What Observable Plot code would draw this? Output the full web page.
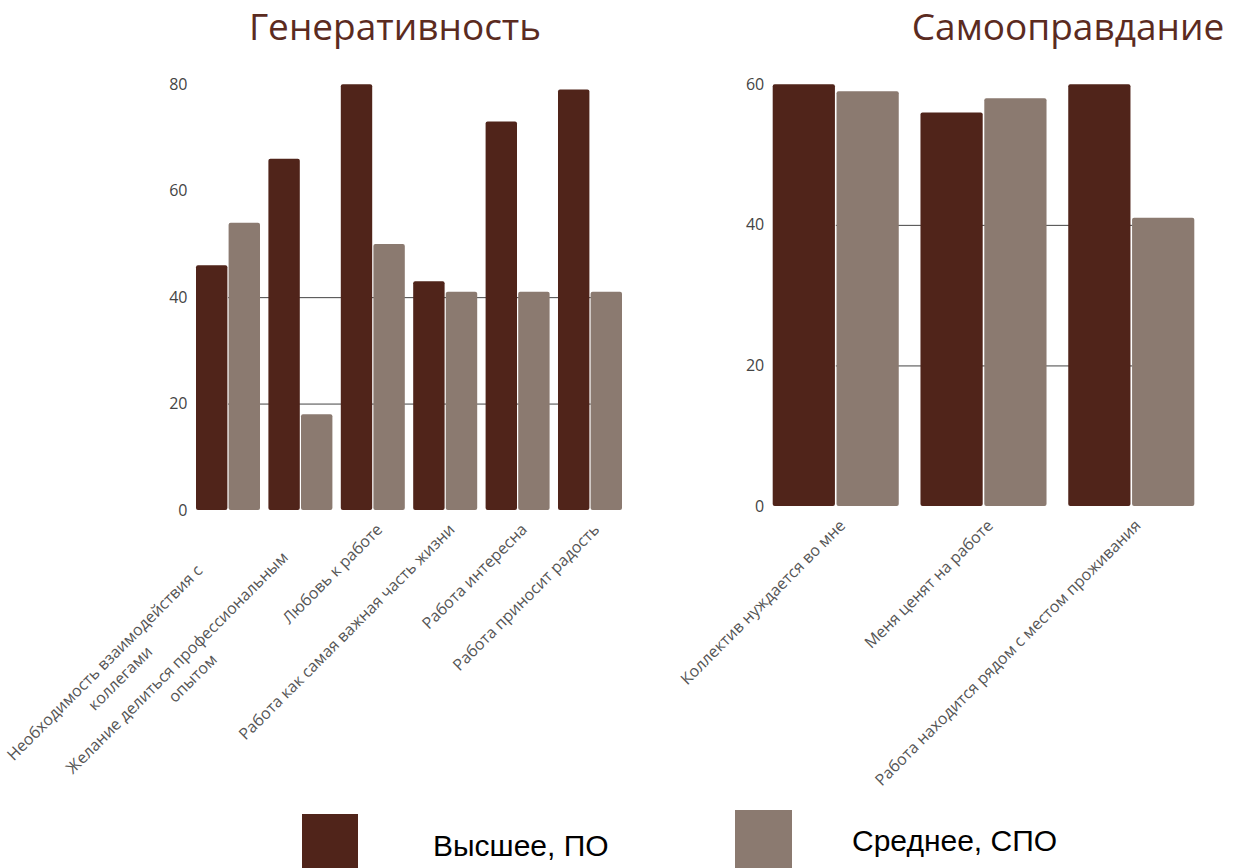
<!DOCTYPE html>
<html>
<head>
<meta charset="utf-8">
<script src="https://cdn.jsdelivr.net/npm/d3@7"></script>
<script src="https://cdn.jsdelivr.net/npm/@observablehq/plot@0.6"></script>
<style>
  body { margin: 0; background: #fff; }
  #page { position: relative; width: 1244px; height: 868px; overflow: hidden; background: #fff; }
  .title { position: absolute; top: 0px; transform: translateX(-50%); white-space: nowrap;
           font-family: "Open Sans", sans-serif; font-size: 37px; line-height: 51px; color: #5b2b1f; }
  .chart { position: absolute; top: 60px; }
  .chart svg { overflow: visible; }
  .swatch { position: absolute; }
  .legend-label { position: absolute; white-space: nowrap; color: #000;
                  font-family: "Liberation Sans", Arial, sans-serif; font-size: 30px; line-height: 34px; }
</style>
</head>
<body>
<div id="page">
  <div class="title" style="left:395px">Генеративность</div>
  <div class="title" style="left:1068px">Самооправдание</div>
  <div class="chart" id="gen" style="left:0px"></div>
  <div class="chart" id="self" style="left:640px"></div>
  <div class="swatch" id="sw-higher" style="left:302px;top:814px;width:56px;height:54px"></div>
  <div class="legend-label" id="lg-higher" style="left:433px;top:829px"></div>
  <div class="swatch" id="sw-middle" style="left:735px;top:810px;width:57px;height:58px"></div>
  <div class="legend-label" id="lg-middle" style="left:852px;top:824px"></div>
</div>
<script>
// Survey answers by education level, per statement
const seriesNames = ["Высшее, ПО", "Среднее, СПО"];
const seriesColors = ["#50241a", "#8b7a70"];

const genCategories = [
  "Необходимость взаимодействия с\nколлегами",
  "Желание делиться профессиональным\nопытом",
  "Любовь к работе",
  "Работа как самая важная часть жизни",
  "Работа интересна",
  "Работа приносит радость"
];
const genHigher = [46, 66, 80, 43, 73, 79];
const genMiddle = [54, 18, 50, 41, 41, 41];
const genTicks = [0, 20, 40, 60, 80];

const selfCategories = [
  "Коллектив нуждается во мне",
  "Меня ценят на работе",
  "Работа находится рядом с местом проживания"
];
const selfHigher = [60, 56, 60];
const selfMiddle = [59, 58, 41];
const selfTicks = [0, 20, 40, 60];

const gridValues = [20, 40];

function groupedBars({categories, higher, middle, ticks, width, height, marginLeft, marginRight, marginTop, marginBottom, paddingInner, gap}) {
  const rows = categories.map((c, i) => ({category: c, higher: higher[i], middle: middle[i]}));
  const n = categories.length;
  const inner = width - marginLeft - marginRight;
  const bandwidth = inner / (n - paddingInner) * (1 - paddingInner);
  const half = bandwidth / 2 + gap / 2;
  // horizontal guides run from the first group's centre to the last one's
  const grid = gridValues.flatMap(v => [
    {category: categories[0], v},
    {category: categories[n - 1], v}
  ]);
  const labelStyle = {fill: "#555", fontSize: 16, rotate: -45, lineAnchor: "top"};
  return Plot.plot({
    width, height, marginLeft, marginRight, marginTop, marginBottom,
    style: {fontFamily: '"Open Sans", sans-serif', fontSize: "16px", color: "#444", background: "transparent", overflow: "visible"},
    x: {domain: categories, paddingInner, paddingOuter: 0, round: false, axis: null},
    y: {domain: [0, ticks[ticks.length - 1]], ticks, tickSize: 0, tickPadding: 9, label: null},
    marks: [
      Plot.line(grid, {x: "category", y: "v", z: "v", stroke: "#444", strokeWidth: 1}),
      Plot.barY(rows, {x: "category", y: "higher", fill: seriesColors[0], insetRight: half, rx: 2}),
      Plot.barY(rows, {x: "category", y: "middle", fill: seriesColors[1], insetLeft: half, rx: 2}),
      Plot.text(rows, {
        filter: d => !d.category.includes("\n"),
        x: "category", y: () => 0, text: "category",
        textAnchor: "end", dx: 2, dy: 12, ...labelStyle
      }),
      Plot.text(rows, {
        filter: d => d.category.includes("\n"),
        x: "category", y: () => 0, text: "category",
        textAnchor: "middle", lineHeight: 1.375, dx: -131, dy: 145, ...labelStyle
      })
    ]
  });
}

document.getElementById("gen").append(groupedBars({
  categories: genCategories, higher: genHigher, middle: genMiddle, ticks: genTicks,
  width: 640, height: 808, marginLeft: 196, marginRight: 18, marginTop: 24.3, marginBottom: 358,
  paddingInner: 0.116, gap: 1.2
}));

document.getElementById("self").append(groupedBars({
  categories: selfCategories, higher: selfHigher, middle: selfMiddle, ticks: selfTicks,
  width: 604, height: 808, marginLeft: 132.7, marginRight: 49.7, marginTop: 24.3, marginBottom: 362,
  paddingInner: 0.147, gap: 1.6
}));

// legend
document.getElementById("sw-higher").style.background = seriesColors[0];
document.getElementById("sw-middle").style.background = seriesColors[1];
document.getElementById("lg-higher").textContent = seriesNames[0];
document.getElementById("lg-middle").textContent = seriesNames[1];
</script>
</body>
</html>
